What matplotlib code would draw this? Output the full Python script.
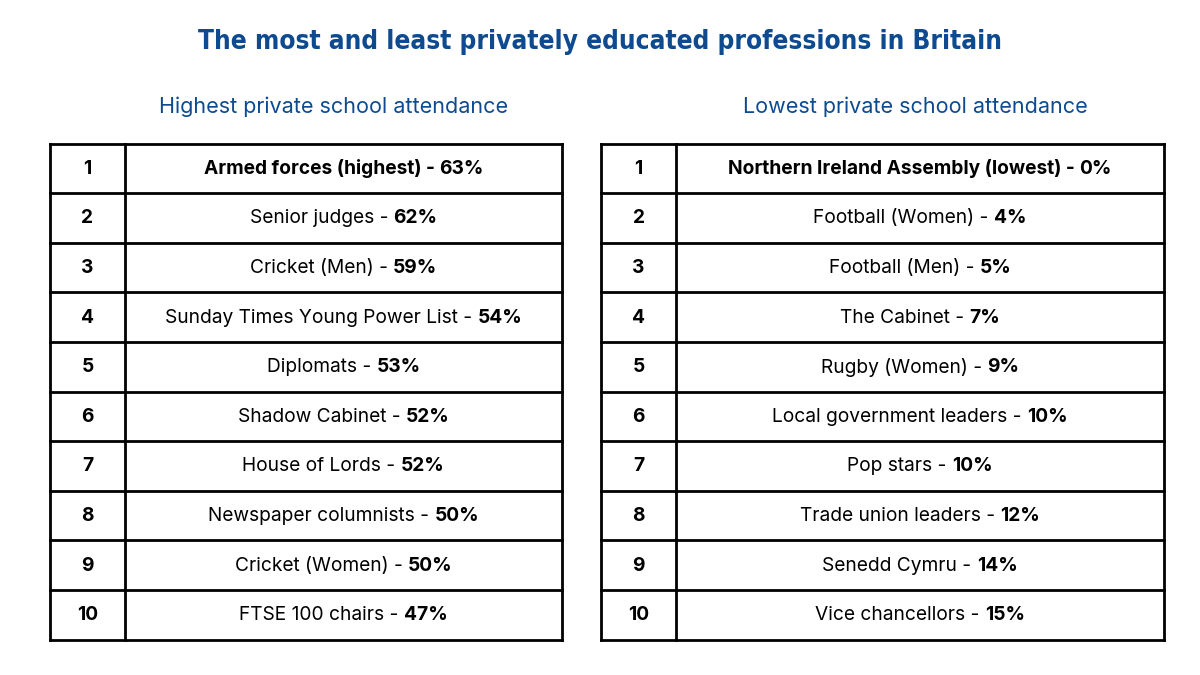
import matplotlib
matplotlib.use("Agg")
import matplotlib.pyplot as plt
from matplotlib import font_manager

title = "The most and least privately educated professions in Britain"
left_heading = "Highest private school attendance"
right_heading = "Lowest private school attendance"

ranks = [1, 2, 3, 4, 5, 6, 7, 8, 9, 10]

high_names = ["Armed forces (highest)", "Senior judges", "Cricket (Men)",
              "Sunday Times Young Power List", "Diplomats", "Shadow Cabinet",
              "House of Lords", "Newspaper columnists", "Cricket (Women)",
              "FTSE 100 chairs"]
high_values = [63, 62, 59, 54, 53, 52, 52, 50, 50, 47]

low_names = ["Northern Ireland Assembly (lowest)", "Football (Women)",
             "Football (Men)", "The Cabinet", "Rugby (Women)",
             "Local government leaders", "Pop stars", "Trade union leaders",
             "Senedd Cymru", "Vice chancellors"]
low_values = [0, 4, 5, 7, 9, 10, 10, 12, 14, 15]

names_avail = {f.name for f in font_manager.fontManager.ttflist}
title_font = "Liberation Sans Narrow" if "Liberation Sans Narrow" in names_avail else "DejaVu Sans"
body_font = "Inter" if "Inter" in names_avail else "DejaVu Sans"

BLUE = "#0d4a8f"

fig = plt.figure(figsize=(12, 6.75), dpi=100)
ax = fig.add_axes([0, 0, 1, 1])
ax.set_xlim(0, 1200)
ax.set_ylim(675, 0)
ax.axis("off")

ttl = ax.text(600, 42, title, ha="center", va="center", fontsize=25, fontweight="bold",
              color=BLUE, family=title_font, fontstretch="condensed")
ax.text(334, 107, left_heading, ha="center", va="center", fontsize=15.5,
        color=BLUE, family=body_font)
ax.text(915, 107, right_heading, ha="center", va="center", fontsize=15.5,
        color=BLUE, family=body_font)

fig.canvas.draw()
renderer = fig.canvas.get_renderer()
# fit title to the reference width
tw = ttl.get_window_extent(renderer).width
ttl.set_fontsize(25 * 804 / tw)

top, bottom = 143.5, 639.5
nrows = len(ranks)
rh = (bottom - top) / nrows
FS = 13.8


def draw_table(x0, xdiv, x1, names, values):
    lw = 2.0
    for i in range(nrows + 1):
        y = top + i * rh
        ax.plot([x0, x1], [y, y], color="black", lw=lw, solid_capstyle="projecting")
    for x in (x0, xdiv, x1):
        ax.plot([x, x], [top, bottom], color="black", lw=lw, solid_capstyle="projecting")
    cx = (xdiv + x1) / 2
    for i, (r, n, v) in enumerate(zip(ranks, names, values)):
        yc = top + (i + 0.5) * rh + 0.5
        ax.text((x0 + xdiv) / 2, yc, str(r), ha="center", va="center",
                fontsize=FS, fontweight="bold", family=body_font)
        first_w = "bold" if i == 0 else "normal"
        t1 = ax.text(0, yc, f"{n} - ", ha="left", va="center", fontsize=FS,
                     fontweight=first_w, family=body_font)
        t2 = ax.text(0, yc, f"{v}%", ha="left", va="center", fontsize=FS,
                     fontweight="bold", family=body_font)
        w1 = t1.get_window_extent(renderer).width
        w2 = t2.get_window_extent(renderer).width
        start = cx - (w1 + w2) / 2
        t1.set_x(start)
        t2.set_x(start + w1)


draw_table(50, 125, 562, high_names, high_values)
draw_table(601, 676, 1164, low_names, low_values)

fig.savefig("out.png", dpi=100, facecolor="white")
